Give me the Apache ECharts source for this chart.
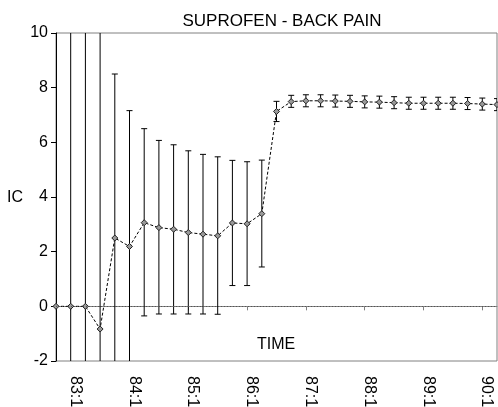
<!DOCTYPE html>
<html><head><meta charset="utf-8">
<script src="https://cdn.jsdelivr.net/npm/echarts@6/dist/echarts.min.js"></script>
<style>html,body{margin:0;padding:0;background:#fff}#c{width:498px;height:407px}</style>
</head><body><div id="c"></div>
<script>
const categories = ['82:4','83:1','83:2','83:3','83:4','84:1','84:2','84:3','84:4','85:1','85:2','85:3','85:4','86:1','86:2','86:3','86:4','87:1','87:2','87:3','87:4','88:1','88:2','88:3','88:4','89:1','89:2','89:3','89:4','90:1','90:2'];
const icValues = [0,0,0,-0.83,2.5,2.19,3.06,2.88,2.82,2.7,2.64,2.58,3.05,3.02,3.39,7.13,7.49,7.52,7.52,7.51,7.5,7.48,7.47,7.45,7.43,7.43,7.43,7.43,7.42,7.4,7.38];
const upperBound = [14,14,14,14,8.5,7.16,6.5,6.07,5.91,5.69,5.56,5.47,5.34,5.29,5.35,7.5,7.72,7.74,7.74,7.73,7.72,7.7,7.69,7.67,7.65,7.65,7.65,7.65,7.64,7.62,7.6];
const lowerBound = [-14,-14,-14,-14,-14,-14,-0.35,-0.28,-0.28,-0.28,-0.28,-0.29,0.76,0.76,1.44,6.76,7.28,7.3,7.3,7.29,7.28,7.26,7.25,7.23,7.21,7.21,7.21,7.21,7.2,7.18,7.16];
const yTicks = [-2,0,2,4,6,8,10];

const Y_MIN = yTicks[0], Y_MAX = yTicks[yTicks.length-1];
const errData = categories.map((c,i)=>[i, lowerBound[i], upperBound[i]]);
const chart = echarts.init(document.getElementById('c'), null, {renderer:'canvas'});
const isQ1 = (i, v) => String(v).endsWith(':1');
const FONT = 'Liberation Sans, Arial, sans-serif';
chart.setOption({
  animation:false,
  backgroundColor:'#fff',
  title:{text:'SUPROFEN - BACK PAIN', left:277, textAlign:'center', top:8,
    textStyle:{fontFamily:FONT,fontSize:17,fontWeight:'normal',color:'#000'}},
  grid:{left:56,right:1,top:33,bottom:46,show:true,borderColor:'#808080',borderWidth:1,
    backgroundColor:'transparent',containLabel:false,outerBoundsMode:'none'},
  xAxis:{type:'category',data:categories,boundaryGap:false,
    axisLine:{lineStyle:{color:'#808080',width:1}},
    axisTick:{interval:isQ1,length:4,lineStyle:{color:'#808080'}},
    axisLabel:{interval:isQ1,rotate:-90,margin:15,fontFamily:FONT,fontSize:16,color:'#000',
      verticalAlign:'bottom',lineHeight:9},
    splitLine:{show:false}},
  yAxis:{type:'value',min:Y_MIN,max:Y_MAX,interval:2,
    axisLine:{show:true,lineStyle:{color:'#000',width:1}},
    axisTick:{show:true,length:5,lineStyle:{color:'#000'}},
    axisLabel:{margin:8,fontFamily:FONT,fontSize:16,color:'#000'},
    splitLine:{show:false}},
  graphic:[
    {type:'text',x:7,y:197.5,style:{text:'IC',font:'16px '+FONT,fill:'#000',verticalAlign:'middle'}},
    {type:'text',x:257,y:345,style:{text:'TIME',font:'16px '+FONT,fill:'#000',verticalAlign:'middle'}}
  ],
  series:[
    {type:'custom',data:errData,clip:true,z:2,
     renderItem:function(params, api){
       const i=api.value(0), lo=api.value(1), hi=api.value(2);
       const loC=Math.max(lo,Y_MIN), hiC=Math.min(hi,Y_MAX);
       const pLo=api.coord([i,loC]), pHi=api.coord([i,hiC]);
       const st={stroke:'#000',lineWidth:1};
       const ch=[{type:'line',shape:{x1:pLo[0],y1:pLo[1],x2:pHi[0],y2:pHi[1]},style:st}];
       const w=3;
       if(hi<=Y_MAX) ch.push({type:'line',shape:{x1:pHi[0]-w,y1:pHi[1],x2:pHi[0]+w,y2:pHi[1]},style:st});
       if(lo>=Y_MIN) ch.push({type:'line',shape:{x1:pLo[0]-w,y1:pLo[1],x2:pLo[0]+w,y2:pLo[1]},style:st});
       return {type:'group',children:ch};
     }},
    {type:'line',data:icValues,z:3,symbol:'diamond',symbolSize:6,showAllSymbol:true,
     lineStyle:{color:'#000',width:1,type:[3,2]},
     itemStyle:{color:'#999',borderColor:'#222',borderWidth:1},
     markLine:{silent:true,symbol:'none',label:{show:false},
       lineStyle:{color:'#555',type:[1,2],width:1},data:[{yAxis:0}]}}
  ]
});
</script></body></html>
